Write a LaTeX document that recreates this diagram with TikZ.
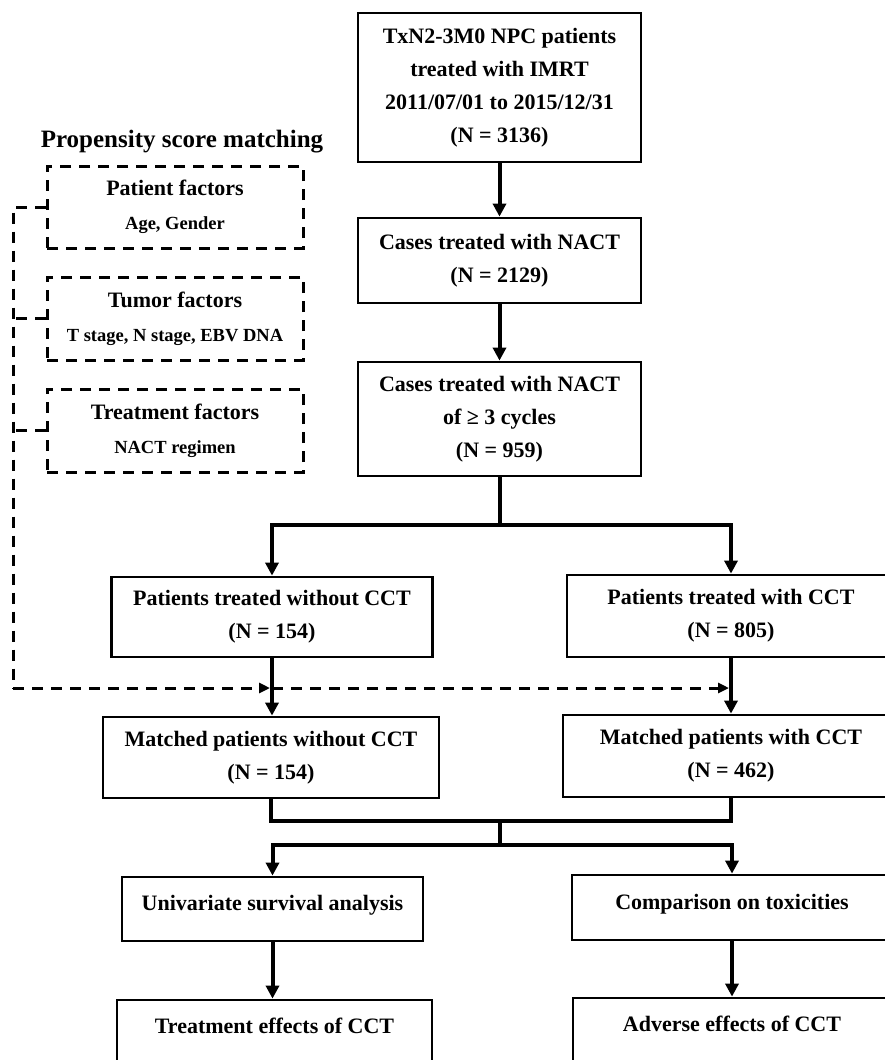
\documentclass[tikz,border=0pt]{standalone}
\usepackage{fontspec}
\setmainfont{Liberation Serif}
\usetikzlibrary{arrows.meta,calc}
\begin{document}
\begin{tikzpicture}[x=1pt,y=-1pt,
  box/.style={draw, line width=2.8pt, align=center, inner sep=0pt,
    font=\bfseries\fontsize{22}{33}\selectfont},
  dbox/.style={draw, line width=3pt, dash pattern=on 11pt off 8pt,
    align=center, inner sep=0pt, minimum width=256pt, minimum height=82pt,
    font=\bfseries\fontsize{18.5}{34}\selectfont},
  hd/.style={font=\bfseries\fontsize{22}{34}\selectfont},
  conn/.style={line width=4pt, line join=miter},
  arr/.style={conn, -{Triangle[length=13pt,width=13pt]}},
  dashln/.style={line width=3pt, dash pattern=on 11pt off 8pt},
  darr/.style={-{Triangle[length=11pt,width=10pt]}},
  ttl/.style={font=\bfseries\fontsize{25}{30}\selectfont, inner sep=0pt}
]
\fill[white] (0,0) rectangle (885,1060);
\useasboundingbox (0,0) rectangle (885,1060);

% main column
\node[box, minimum width=283pt, minimum height=149pt] (top) at (499.5,87.5)
  {TxN2-3M0 NPC patients\\treated with IMRT\\2011/07/01 to 2015/12/31\\(N = 3136)};
\node[box, minimum width=283pt, minimum height=85pt] (nact) at (499.5,260.5)
  {Cases treated with NACT\\(N = 2129)};
\node[box, minimum width=283pt, minimum height=114pt] (nact3) at (499.5,419)
  {Cases treated with NACT\\of ≥ 3 cycles\\(N = 959)};
\node[box, minimum width=321pt, minimum height=80pt] (without) at (272,617)
  {Patients treated without CCT\\(N = 154)};
\node[box, minimum width=328pt, minimum height=82pt] (with) at (731,616)
  {Patients treated with CCT\\(N = 805)};
\node[box, minimum width=336pt, minimum height=81pt] (mwithout) at (271,757.5)
  {Matched patients without CCT\\(N = 154)};
\node[box, minimum width=336pt, minimum height=82pt] (mwith) at (731,756)
  {Matched patients with CCT\\(N = 462)};
\node[box, minimum width=301pt, minimum height=64pt, text depth=12pt] (univ) at (272.5,909)
  {Univariate survival analysis};
\node[box, minimum width=320pt, minimum height=65pt, text depth=12pt] (comp) at (732,907.5)
  {Comparison on toxicities};
\node[box, minimum width=315pt, minimum height=64pt, text depth=12pt] (treat) at (274.5,1032)
  {Treatment effects of CCT};
\node[box, minimum width=318pt, minimum height=64pt, text depth=12pt] (adverse) at (732,1030)
  {Adverse effects of CCT};

% propensity score matching
\node[ttl] (psm) at (182,142) {Propensity score matching};
\node[dbox] (pf) at (175,207) {{\fontsize{22}{34}\selectfont Patient factors}\\Age, Gender};
\node[dbox, minimum height=83pt] (tf) at (175,318.5) {{\fontsize{22}{34}\selectfont Tumor factors}\\T stage, N stage, EBV DNA};
\node[dbox, minimum height=83pt] (trf) at (175,430.5) {{\fontsize{22}{34}\selectfont Treatment factors}\\NACT regimen};

% connectors
\coordinate (s1) at (499.5,525);
\coordinate (mj) at (499.5,821);
\coordinate (sp) at (499.5,845);
\coordinate (dl) at (13,688);

\draw[arr] (top.south) -- (nact.north);
\draw[arr] (nact.south) -- (nact3.north);
\draw[conn, line cap=rect] (nact3.south) -- (s1);
\draw[arr] (s1) -| (without.north);
\draw[arr] (s1) -| (with.north);
\draw[arr] (without.south) -- (without.south |- mwithout.north);
\draw[arr] (with.south) -- (with.south |- mwith.north);
\draw[conn] (mwithout.south) |- (mj) -| (mwith.south);
\draw[conn, line cap=rect] (mj) -- (sp);
\draw[arr] (sp) -| (univ.north);
\draw[arr] (sp) -| (comp.north);
\draw[arr] (univ.south) -- (univ.south |- treat.north);
\draw[arr] (comp.south) -- (comp.south |- adverse.north);

% dashed matching lines
\draw[dashln] (pf.west) -| (dl);
\draw[dashln] (tf.west) -- (tf.west -| dl);
\draw[dashln] (trf.west) -- (trf.west -| dl);
\draw[dashln, darr] (dl) -- ($(without.south |- dl)+(-2,0)$);
\draw[dashln, darr] (without.south |- dl) -- ($(with.south |- dl)+(-2,0)$);
\end{tikzpicture}
\end{document}
